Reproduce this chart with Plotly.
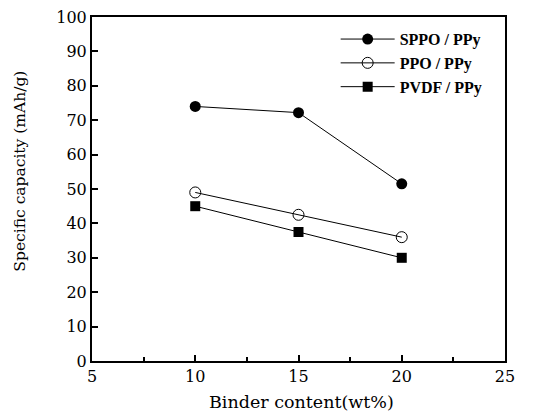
import plotly.graph_objects as go

binder = [10, 15, 20]
sppo = [74, 72.2, 51.5]
ppo = [49, 42.5, 36]
pvdf = [45, 37.5, 30]
names = ["SPPO / PPy", "PPO / PPy", "PVDF / PPy"]
xticks = [5, 10, 15, 20, 25]
xminor = [7.5, 12.5, 17.5, 22.5]
yticks = list(range(0, 101, 10))

SERIF = "DejaVu Serif"
BOLD = "Liberation Serif"

fig = go.Figure()
fig.add_trace(go.Scatter(x=binder, y=sppo, name="<b>" + names[0] + "</b>", mode="lines+markers",
                         line=dict(color="black", width=1),
                         marker=dict(symbol="circle", size=11, color="black")))
fig.add_trace(go.Scatter(x=binder, y=ppo, name="<b>" + names[1] + "</b>", mode="lines+markers",
                         line=dict(color="black", width=1),
                         marker=dict(symbol="circle-open", size=11, color="black", line=dict(width=1))))
fig.add_trace(go.Scatter(x=binder, y=pvdf, name="<b>" + names[2] + "</b>", mode="lines+markers",
                         line=dict(color="black", width=1),
                         marker=dict(symbol="square", size=10, color="black")))

fig.update_layout(
    width=526, height=409,
    margin=dict(l=84, r=29, t=9, b=56, autoexpand=False),
    paper_bgcolor="white", plot_bgcolor="white",
    font=dict(family=SERIF, size=16, color="black"),
    showlegend=True,
    legend=dict(x=0.59, y=0.985, xanchor="left", yanchor="top",
                font=dict(family=BOLD, size=16, color="black"),
                bgcolor="rgba(0,0,0,0)", tracegroupgap=0, itemwidth=54),
    xaxis=dict(range=[5, 25], tickvals=xticks, ticks="inside", ticklen=6, automargin=False,
               tickwidth=1.5, tickcolor="black", showline=True, linecolor="black", linewidth=2,
               mirror=True, showgrid=False, zeroline=False, ticklabeloverflow="allow",
               minor=dict(tickvals=xminor, ticks="inside", ticklen=4, tickcolor="black")),
    yaxis=dict(range=[0, 100], tickvals=yticks, ticks="inside", ticklen=6, automargin=False,
               tickwidth=1.5, tickcolor="black", showline=True, linecolor="black", linewidth=2,
               mirror=True, showgrid=False, zeroline=False, ticklabeloverflow="allow"),
    annotations=[
        dict(text="Specific capacity (mAh/g)", textangle=-90, xref="paper", yref="paper",
             x=-0.173, y=0.552, xanchor="center", yanchor="middle", showarrow=False,
             font=dict(family=SERIF, size=15.5, color="black")),
        dict(text="Binder content(wt%)", xref="paper", yref="paper",
             x=0.507, y=-0.119, xanchor="center", yanchor="middle", showarrow=False,
             font=dict(family=SERIF, size=17.5, color="black")),
    ],
)

fig.write_html("out.html")
